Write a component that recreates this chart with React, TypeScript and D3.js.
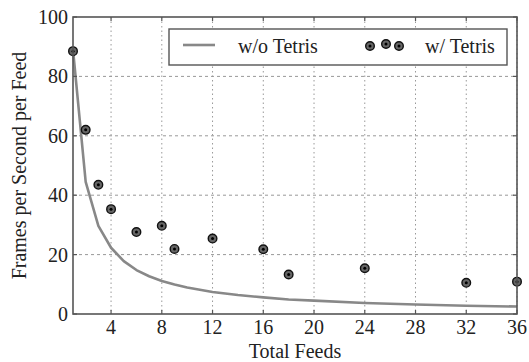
import React from "react";
import * as d3 from "d3";

const W = 529;
const H = 362;

const feedsWith = [1, 2, 3, 4, 6, 8, 9, 12, 16, 18, 24, 32, 36];
const fpsWith = [88.5, 62, 43.5, 35.3, 27.6, 29.7, 21.9, 25.4, 21.8, 13.3, 15.4, 10.5, 10.9];

const feedsWithout = [1, 2, 3, 4, 5, 6, 7, 8, 9, 10, 12, 14, 16, 18, 20, 24, 28, 32, 36];
const fpsWithout = [89, 44.5, 29.7, 22.3, 17.8, 14.8, 12.7, 11.1, 9.9, 8.9, 7.4, 6.4, 5.6, 4.9, 4.5, 3.7, 3.2, 2.8, 2.5];

const xTicks = [4, 8, 12, 16, 20, 24, 28, 32, 36];
const yTicks = [0, 20, 40, 60, 80, 100];

const FONT = "'Liberation Serif', 'DejaVu Serif', serif";
const ts = { fontFamily: FONT, fontSize: 20 } as const;

export default function App() {
  const m = { left: 73, right: 517, top: 17, bottom: 314 };
  const x = d3.scaleLinear().domain([1, 36]).range([m.left, m.right]);
  const y = d3.scaleLinear().domain([0, 100]).range([m.bottom, m.top]);
  const line = d3
    .line<number>()
    .x((_, i) => x(feedsWithout[i]))
    .y((d) => y(d));

  const axisColor = "#555";
  const gridColor = "#999";

  const marker = (cx: number, cy: number, key: string | number) => (
    <g key={key}>
      <circle cx={cx} cy={cy} r={4.3} fill="#666" stroke="#111" strokeWidth={1.4} />
      <circle cx={cx} cy={cy} r={1.5} fill="#000" />
    </g>
  );

  return (
    <svg
      width={W}
      height={H}
      style={{ position: "absolute", left: 0, top: 0, background: "#fff" }}
    >
      {/* grid */}
      {xTicks.map((t) => (
        <line key={"gx" + t} x1={x(t)} x2={x(t)} y1={m.top} y2={m.bottom} stroke={gridColor} strokeWidth={1} strokeDasharray="1.5,3" />
      ))}
      {yTicks.filter((t) => t > 0 && t < 100).map((t) => (
        <line key={"gy" + t} x1={m.left} x2={m.right} y1={y(t)} y2={y(t)} stroke={gridColor} strokeWidth={1} strokeDasharray="3,3" />
      ))}

      {/* line */}
      <path d={line(fpsWithout) || ""} fill="none" stroke="#888" strokeWidth={2.6} strokeLinejoin="round" />

      {/* points */}
      {feedsWith.map((f, i) => marker(x(f), y(fpsWith[i]), i))}

      {/* frame */}
      <rect x={m.left} y={m.top} width={m.right - m.left} height={m.bottom - m.top} fill="none" stroke={axisColor} strokeWidth={1.6} />

      {/* ticks */}
      {xTicks.map((t) => (
        <g key={"tx" + t}>
          <line x1={x(t)} x2={x(t)} y1={m.bottom} y2={m.bottom - 4} stroke={axisColor} strokeWidth={1.2} />
          <line x1={x(t)} x2={x(t)} y1={m.top} y2={m.top + 4} stroke={axisColor} strokeWidth={1.2} />
          <text x={x(t)} y={334} textAnchor="middle" style={ts} fill="#222">
            {t}
          </text>
        </g>
      ))}
      {yTicks.map((t) => (
        <g key={"ty" + t}>
          <line x1={m.left} x2={m.left + 4} y1={y(t)} y2={y(t)} stroke={axisColor} strokeWidth={1.2} />
          <line x1={m.right} x2={m.right - 4} y1={y(t)} y2={y(t)} stroke={axisColor} strokeWidth={1.2} />
          <text x={68} y={y(t) + 7} textAnchor="end" style={ts} fill="#222">
            {t}
          </text>
        </g>
      ))}

      {/* axis labels */}
      <text x={(m.left + m.right) / 2} y={358} textAnchor="middle" style={ts} fill="#222">
        Total Feeds
      </text>
      <text
        transform={`translate(26, ${(m.top + m.bottom) / 2}) rotate(-90)`}
        textAnchor="middle"
        style={ts}
        fill="#222"
      >
        Frames per Second per Feed
      </text>

      {/* legend */}
      <rect x={169} y={29} width={338} height={36} fill="#fff" stroke={axisColor} strokeWidth={1.4} />
      <line x1={183} x2={215} y1={45} y2={45} stroke="#888" strokeWidth={2.6} />
      <text x={238} y={53} style={ts} fill="#222">
        w/o Tetris
      </text>
      {[370, 386, 399].map((cx, i) => marker(cx, i === 1 ? 44 : 46, "lg" + i))}
      <text x={425} y={53} style={ts} fill="#222">
        w/ Tetris
      </text>
    </svg>
  );
}
